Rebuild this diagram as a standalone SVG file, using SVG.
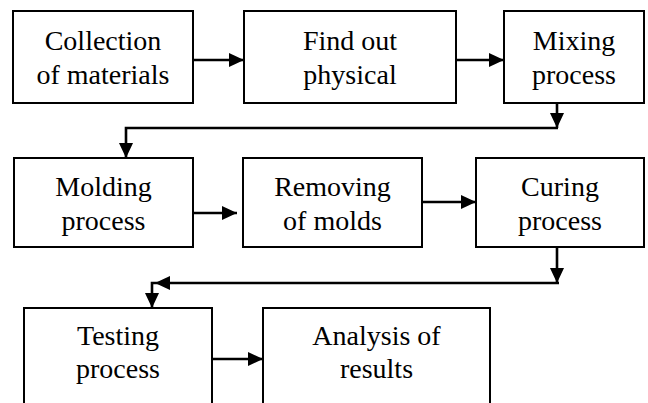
<svg xmlns="http://www.w3.org/2000/svg" width="648" height="403" viewBox="0 0 648 403">
<style>
.box{fill:#fff;stroke:#000;stroke-width:2}
.t{font-family:"Liberation Serif","Times New Roman",serif;font-size:28px;fill:#000;text-anchor:middle}
.c{fill:none;stroke:#000;stroke-width:2.6}
</style>
<defs>
<marker id="ah" viewBox="0 0 15 14" refX="15" refY="7" markerWidth="15" markerHeight="14" markerUnits="userSpaceOnUse" orient="auto">
<path d="M0,0 L15,7 L0,14 Z" fill="#000"/>
</marker>
</defs>
<rect width="648" height="403" fill="#fff"/>
<g id="n1"><rect class="box" x="13" y="11" width="180" height="92"/><text class="t" x="103" y="50">Collection</text><text class="t" x="103" y="84">of materials</text></g>
<g id="n2"><rect class="box" x="244" y="11" width="212" height="92"/><text class="t" x="350" y="50">Find out</text><text class="t" x="350" y="84">physical</text></g>
<g id="n3"><rect class="box" x="504" y="11" width="140" height="92"/><text class="t" x="574" y="50">Mixing</text><text class="t" x="574" y="84">process</text></g>
<g id="n4"><rect class="box" x="14" y="158" width="179" height="89"/><text class="t" x="103.5" y="196">Molding</text><text class="t" x="103.5" y="230">process</text></g>
<g id="n5"><rect class="box" x="243" y="158" width="179" height="89"/><text class="t" x="332.5" y="196">Removing</text><text class="t" x="332.5" y="230">of molds</text></g>
<g id="n6"><rect class="box" x="476" y="158" width="168" height="89"/><text class="t" x="560" y="196">Curing</text><text class="t" x="560" y="230">process</text></g>
<g id="n7"><rect class="box" x="24" y="308" width="188" height="110"/><text class="t" x="118" y="345">Testing</text><text class="t" x="118" y="378">process</text></g>
<g id="n8"><rect class="box" x="263" y="308" width="227" height="110"/><text class="t" x="376.5" y="345">Analysis of</text><text class="t" x="376.5" y="378">results</text></g>
<g id="connectors">
<line class="c" x1="193" y1="60" x2="244" y2="60" marker-end="url(#ah)"/>
<line class="c" x1="456" y1="60" x2="504" y2="60" marker-end="url(#ah)"/>
<line class="c" x1="557" y1="103" x2="557" y2="128" marker-end="url(#ah)"/>
<path class="c" d="M558,128 H126 V158" marker-end="url(#ah)"/>
<line class="c" x1="193" y1="213" x2="237" y2="213" marker-end="url(#ah)"/>
<line class="c" x1="422" y1="202" x2="476" y2="202" marker-end="url(#ah)"/>
<line class="c" x1="557" y1="247" x2="557" y2="283" marker-end="url(#ah)"/>
<line class="c" x1="559" y1="283" x2="155" y2="283" marker-end="url(#ah)"/>
<path class="c" d="M155,283 H152 V308" marker-end="url(#ah)"/>
<line class="c" x1="212" y1="359" x2="263" y2="359" marker-end="url(#ah)"/>
</g>
</svg>
